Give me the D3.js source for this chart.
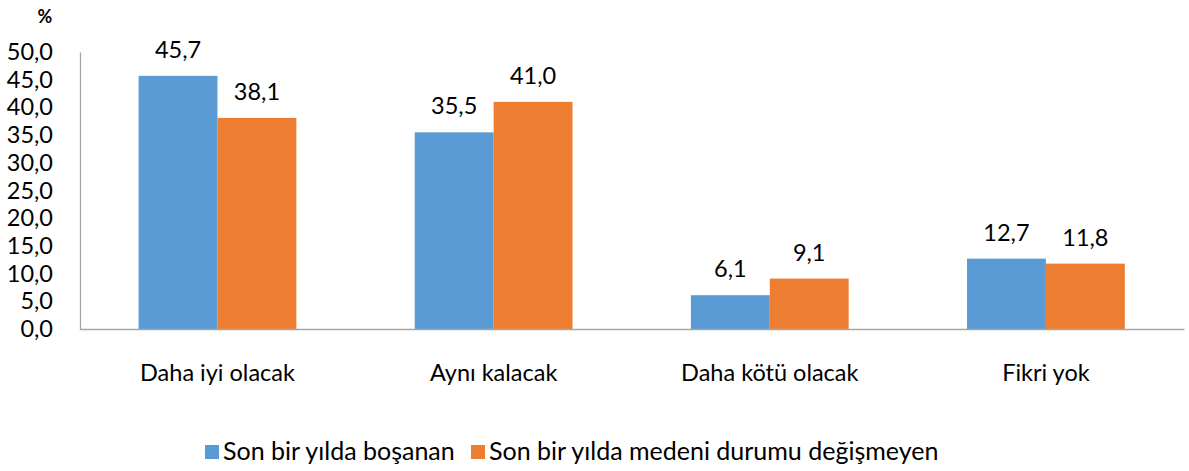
<!DOCTYPE html>
<html><head><meta charset="utf-8">
<script src="https://cdn.jsdelivr.net/npm/d3@7"></script>
<style>body{margin:0;background:#fff}svg{display:block}text{font-family:Lato,"Noto Sans",sans-serif;fill:#000}</style>
</head><body><svg id="c" width="1189" height="471"></svg>
<script>
const categories = ["Daha iyi olacak","Aynı kalacak","Daha kötü olacak","Fikri yok"];
const seriesNames = ["Son bir yılda boşanan","Son bir yılda medeni durumu değişmeyen"];
const divorced = [45.7,35.5,6.1,12.7];
const unchanged = [38.1,41.0,9.1,11.8];
const yTicks = [0,5,10,15,20,25,30,35,40,45,50];
const colors = ["#5B9BD5","#ED7D31"];
const fmt = v => v.toFixed(1).replace(".", ",");

const svg = d3.select("#c");
const x = d3.scaleBand().domain(categories).range([79.4,1184]);
const y = d3.scaleLinear().domain([0,50]).range([329,52]);
const sub = d3.scaleBand().domain([0,1]).range([0, x.bandwidth()]).paddingOuter(0.75).paddingInner(0);

// y axis
const ya = svg.append("g").attr("transform","translate(80,0)")
  .call(d3.axisLeft(y).tickValues(yTicks).tickSize(0).tickPadding(27).tickFormat(fmt));
ya.select(".domain").attr("stroke","#a6a6a6").attr("stroke-width",1.3);
ya.selectAll("text").style("font-size","23.5px").style("font-family","Lato,sans-serif").attr("fill","#000");

const data = [divorced, unchanged];
categories.forEach((c,i)=>{
  data.forEach((s,j)=>{
    svg.append("rect").attr("x", x(c)+sub(j)).attr("y", y(s[i]))
      .attr("width", sub.bandwidth()).attr("height", y(0)-y(s[i])).attr("fill", colors[j]);
    svg.append("text").attr("x", x(c)+sub(j)+sub.bandwidth()/2).attr("y", y(s[i])-18)
      .attr("text-anchor","middle").style("font-size","23.5px").text(fmt(s[i]));
  });
});

// x axis
const xa = svg.append("g").attr("transform",`translate(0,${y(0)})`)
  .call(d3.axisBottom(x).tickSize(0).tickPadding(35));
xa.select(".domain").attr("stroke","#a6a6a6").attr("stroke-width",1.3);
xa.selectAll("text").style("font-size","23.5px").style("font-family","Lato,sans-serif").attr("fill","#000");

svg.append("text").attr("x",45).attr("y",23).attr("text-anchor","middle")
  .style("font-size","18px").style("font-weight","bold").text("%");

// legend
const leg = [{x:205,t:seriesNames[0],c:colors[0]},{x:471,t:seriesNames[1],c:colors[1]}];
leg.forEach(l=>{
  svg.append("rect").attr("x",l.x).attr("y",445).attr("width",14).attr("height",14).attr("fill",l.c);
  svg.append("text").attr("x",l.x+18).attr("y",460).style("font-size","25px").text(l.t);
});
</script></body></html>
